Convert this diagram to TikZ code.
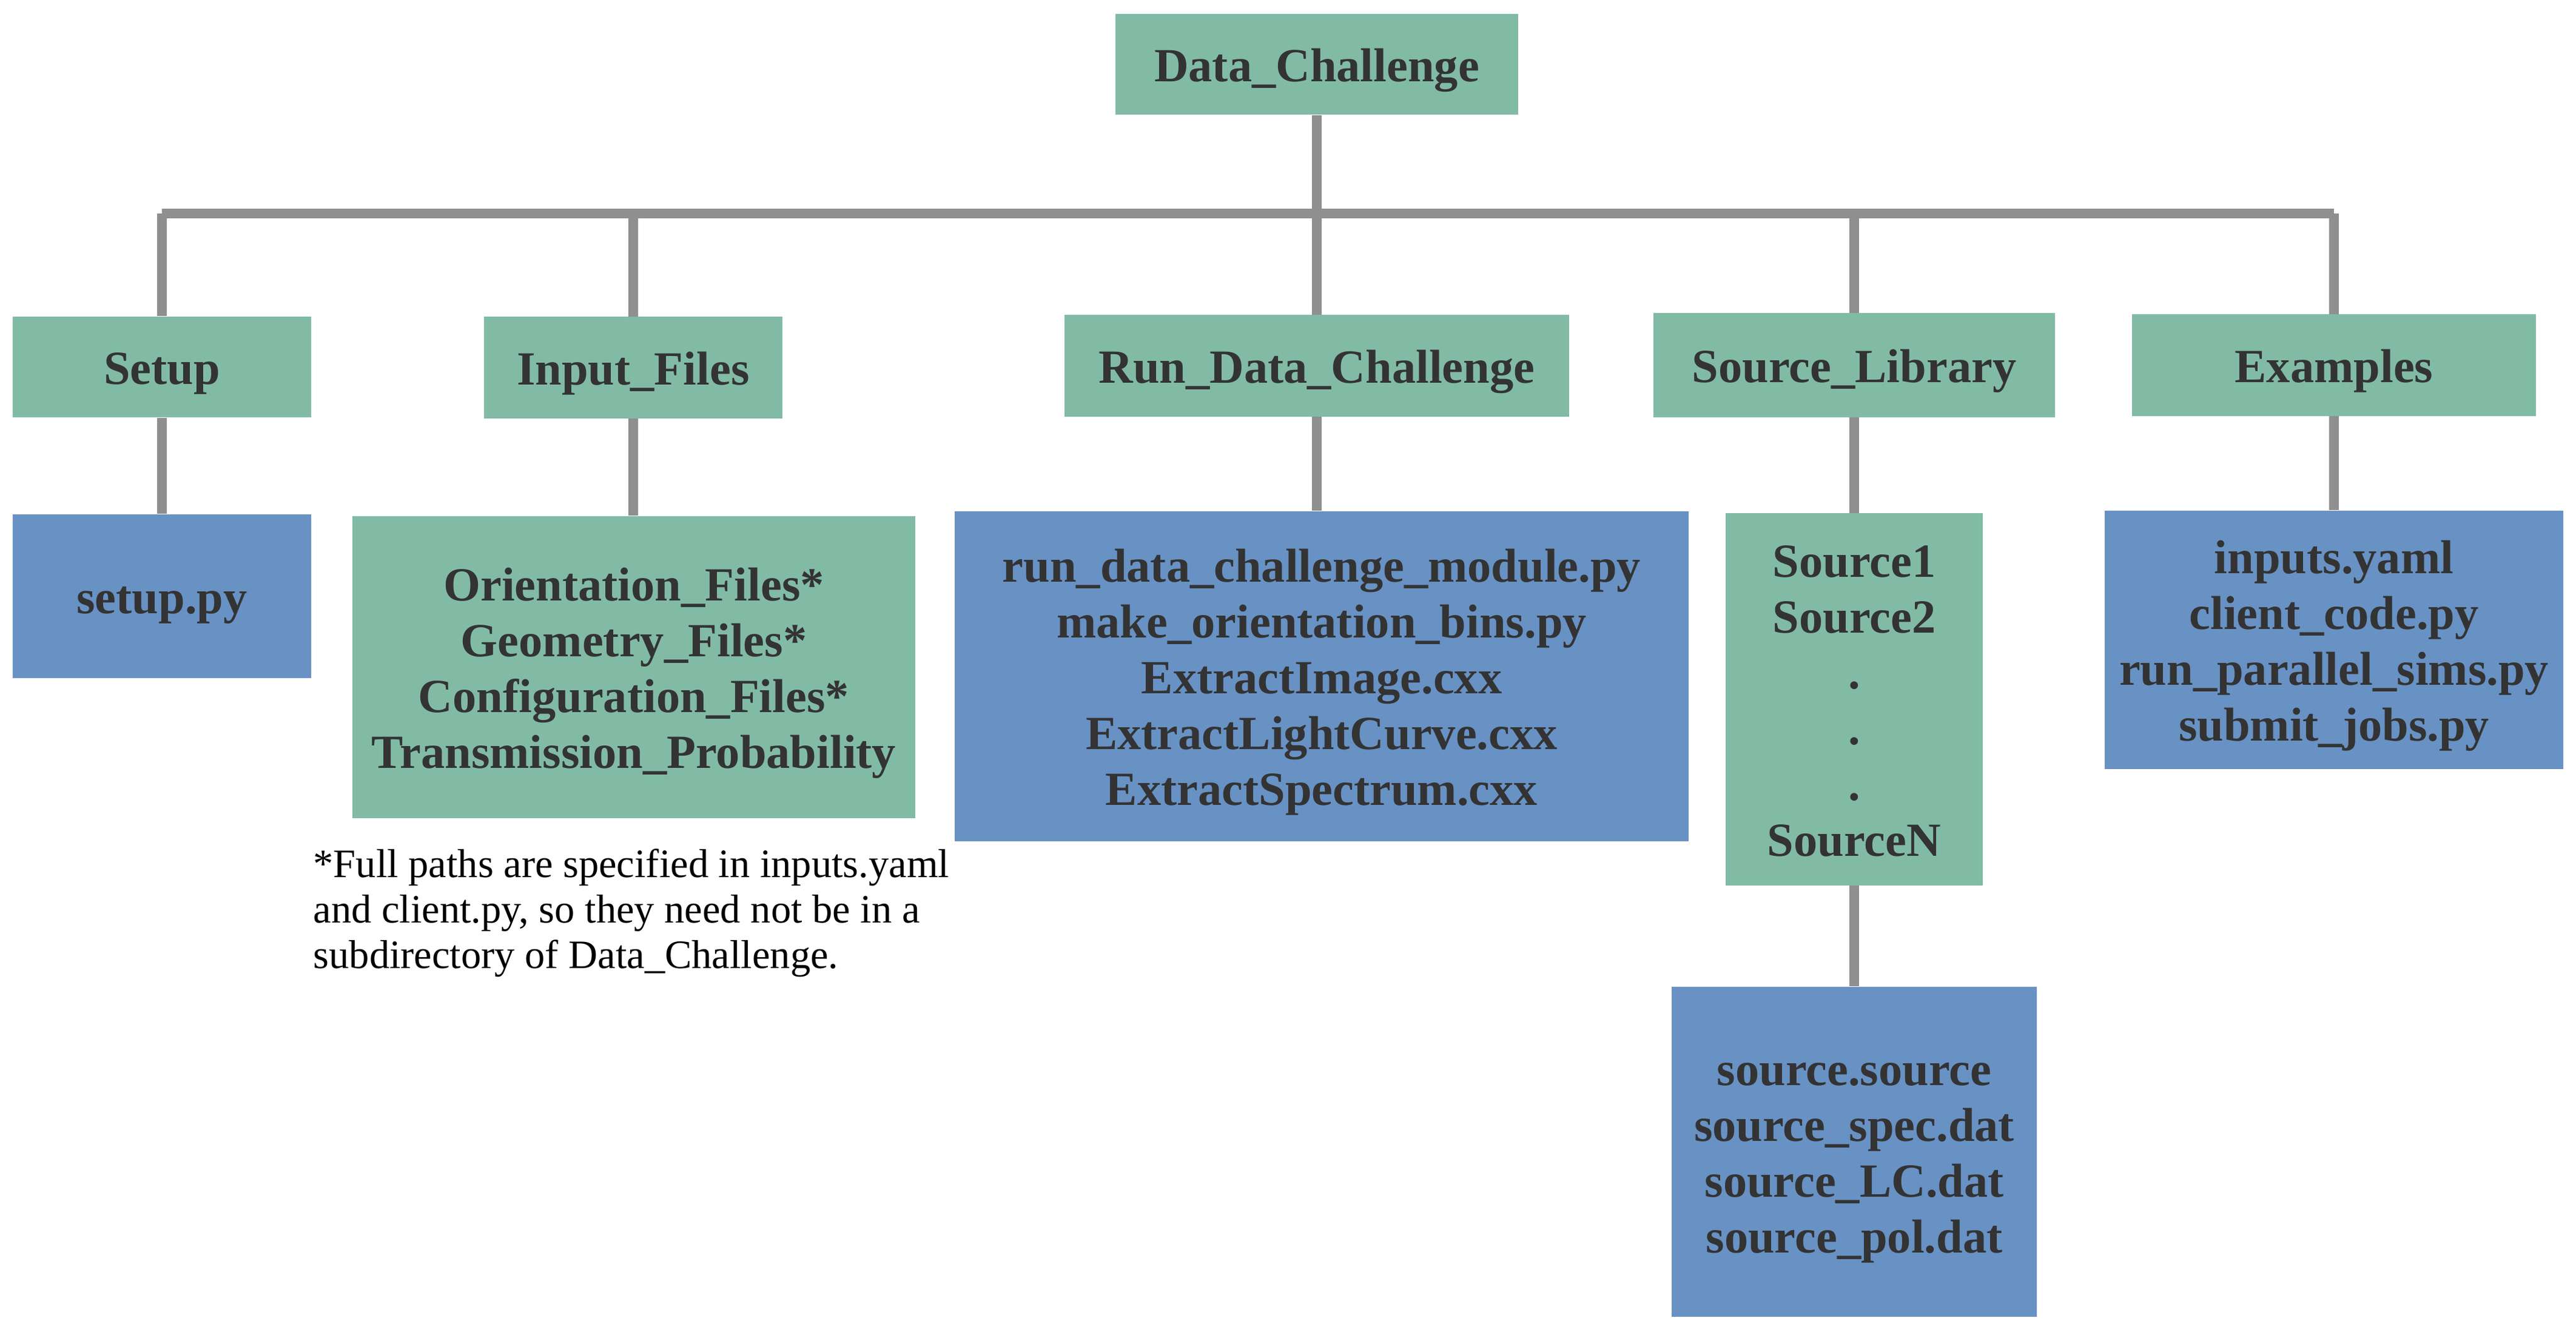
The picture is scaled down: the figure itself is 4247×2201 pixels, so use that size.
\documentclass[tikz,border=0pt]{standalone}
\usepackage{fontspec}
\setmainfont{Liberation Serif}
\definecolor{boxgreen}{HTML}{81BBA5}
\definecolor{boxblue}{HTML}{6891C4}
\definecolor{linegray}{HTML}{8F8F8F}
\definecolor{textgray}{HTML}{333333}
\newcommand{\topstrut}{\rule{0pt}{24pt}}
\begin{document}
\begin{tikzpicture}[x=0.01cm, y=-0.01cm,
	mybox/.style={fill=#1, inner sep=0pt, align=center, text=textgray, font={\fontsize{22.3pt}{26.2pt}\selectfont\bfseries}, execute at begin node=\topstrut, execute at end node=\strut},
	myline/.style={draw=linegray, line width=4.3pt},
	mybus/.style={draw=linegray, line width=4.8pt}]
				\useasboundingbox (0,0) rectangle (4247,2201);
				\node[mybox=boxgreen, minimum width=6.64cm, minimum height=1.66cm] (root) at (2171,106) {Data\_Challenge};
				\node[mybox=boxgreen, minimum width=4.91cm, minimum height=1.66cm] (setup) at (267,605) {Setup};
				\node[mybox=boxgreen, minimum width=4.92cm, minimum height=1.67cm] (input) at (1044,606) {Input\_Files};
				\node[mybox=boxgreen, minimum width=8.32cm, minimum height=1.67cm] (run) at (2171,603) {Run\_Data\_Challenge};
				\node[mybox=boxgreen, minimum width=6.62cm, minimum height=1.71cm] (srclib) at (3057,602) {Source\_Library};
				\node[mybox=boxgreen, minimum width=6.65cm, minimum height=1.67cm] (examples) at (3848,602) {Examples};
				\node[mybox=boxblue, minimum width=4.91cm, minimum height=2.70cm] (setuppy) at (267,983) {setup.py};
				\node[mybox=boxgreen, minimum width=9.28cm, minimum height=4.98cm] (infiles) at (1045,1100) {
					\topstrut Orientation\_Files*\\
					Geometry\_Files*\\
					Configuration\_Files*\\
					Transmission\_Probability\strut
				};
				\node[mybox=boxblue, minimum width=12.10cm, minimum height=5.44cm] (runfiles) at (2179,1115) {
					\topstrut run\_data\_challenge\_module.py\\
					make\_orientation\_bins.py\\
					ExtractImage.cxx\\
					ExtractLightCurve.cxx\\
					ExtractSpectrum.cxx\strut
				};
				\node[mybox=boxgreen, minimum width=4.23cm, minimum height=6.13cm] (sources) at (3057,1153) {
					\topstrut Source1\\
					Source2\\
					.\\
					.\\
					.\\
					SourceN\strut
				};
				\node[mybox=boxblue, minimum width=7.56cm, minimum height=4.26cm] (exfiles) at (3848,1055) {
					\topstrut inputs.yaml\\
					client\_code.py\\
					run\_parallel\_sims.py\\
					submit\_jobs.py\strut
				};
				\node[mybox=boxblue, minimum width=6.02cm, minimum height=5.44cm] (srcfiles) at (3057,1899) {
					\topstrut source.source\\
					source\_spec.dat\\
					source\_LC.dat\\
					source\_pol.dat\strut
				};
				\node[anchor=north west, inner sep=0pt, align=left, font={\fontsize{18.9pt}{21.3pt}\selectfont}] (note) at (516,1399) {
					*Full paths are specified in inputs.yaml\\
					and client.py, so they need not be in a\\
					subdirectory of Data\_Challenge.
				};
				\coordinate (busL) at (267,352);
				\coordinate (busR) at (3848,352);
				\draw[mybus] (busL) -- (busR);
				\draw[myline] (root.south) -- (run.north);
				\draw[myline] (setup.north) -- (setup.north |- busL);
				\draw[myline] (input.north) -- (input.north |- busL);
				\draw[myline] (srclib.north) -- (srclib.north |- busL);
				\draw[myline] (examples.north) -- (examples.north |- busL);
				\draw[myline] (setup.south) -- (setuppy.north);
				\draw[myline] (input.south) -- (input.south |- infiles.north);
				\draw[myline] (run.south) -- (run.south |- runfiles.north);
				\draw[myline] (srclib.south) -- (srclib.south |- sources.north);
				\draw[myline] (examples.south) -- (examples.south |- exfiles.north);
				\draw[myline] (sources.south) -- (srcfiles.north);
\end{tikzpicture}
\end{document}
